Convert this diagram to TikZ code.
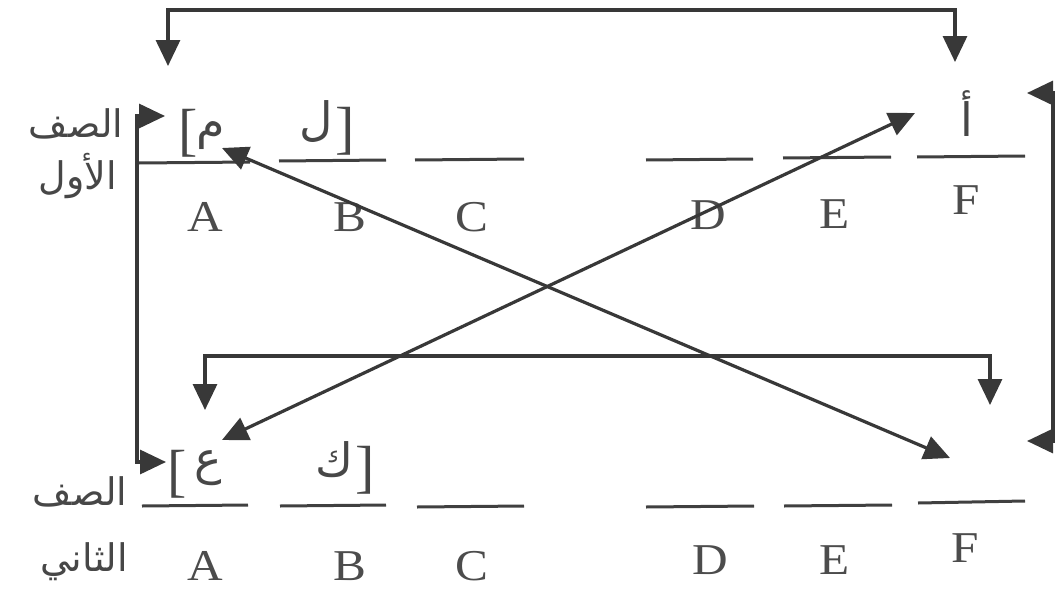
\documentclass[tikz,border=0pt]{standalone}
\usepackage{fontspec}
\setmainfont{Liberation Serif}
\newfontfamily\arabicfont[Script=Arabic]{DejaVu Sans}
\TeXXeTstate=1
\usetikzlibrary{arrows.meta}
\begin{document}
\begin{tikzpicture}[x=1pt,y=-1pt,
  ink/.style={draw=black!78, line width=3.2pt},
  tip/.tip={Triangle[length=26pt,width=24pt]},
  arr/.style={ink, -tip},
  dbl/.style={ink, tip-tip},
  blank/.style={draw=black!75, line width=3pt},
  lat/.style={text=black!70, font=\fontsize{44}{44}\selectfont, inner sep=0pt},
  ar/.style={text=black!72, font=\arabicfont\fontsize{38}{44}\selectfont, inner sep=0pt},
  arl/.style={text=black!72, font=\arabicfont\fontsize{46}{52}\selectfont, inner sep=0pt},
  brk/.style={text=black!72, font=\fontsize{58}{58}\selectfont, inner sep=0pt}]
\useasboundingbox (0,0) rectangle (1058,597);
\fill[white] (0,0) rectangle (1058,597);

% ---- row labels (Arabic) ----
\node[ar] (r1a) at (76,124) {\beginR الصف\endR};
\node[ar] (r1b) at (78,176) {\beginR الأول\endR};
\node[ar] (r2a) at (80,492) {\beginR الصف\endR};
\node[ar] (r2b) at (84,562) {\beginR الثاني\endR};

% ---- blanks row 1 ----
\draw[blank] (139,163) -- (250,162);
\draw[blank] (279,161) -- (386,160);
\draw[blank] (415,160) -- (524,159);
\draw[blank] (646,160) -- (753,159);
\draw[blank] (783,158) -- (891,157);
\draw[blank] (917,157) -- (1025,156);

% ---- blanks row 2 ----
\draw[blank] (142,506) -- (248,505);
\draw[blank] (280,506) -- (386,505);
\draw[blank] (417,507) -- (524,506);
\draw[blank] (646,507) -- (754,506);
\draw[blank] (784,506) -- (892,505);
\draw[blank] (918,503) -- (1025,501);

% ---- column letters ----
\node[lat] (a1) at (205,217) {\scalebox{1.12}[1]{A}};
\node[lat] (b1) at (350,217) {\scalebox{1.12}[1]{B}};
\node[lat] (c1) at (472,217) {\scalebox{1.12}[1]{C}};
\node[lat] (d1) at (708,215) {\scalebox{1.12}[1]{D}};
\node[lat] (e1) at (835,214) {\scalebox{1.12}[1]{E}};
\node[lat] (f1) at (966,200) {\scalebox{1.12}[1]{F}};
\node[lat] (a2) at (205,566) {\scalebox{1.12}[1]{A}};
\node[lat] (b2) at (350,566) {\scalebox{1.12}[1]{B}};
\node[lat] (c2) at (472,566) {\scalebox{1.12}[1]{C}};
\node[lat] (d2) at (710,560) {\scalebox{1.12}[1]{D}};
\node[lat] (e2) at (835,560) {\scalebox{1.12}[1]{E}};
\node[lat] (f2) at (965,548) {\scalebox{1.12}[1]{F}};

% ---- filled-in letters and brackets ----
\node[brk] (k1) at (188,133) {[};
\node[arl] (m1) at (211,136) {\beginR م\endR};
\node[arl] (l1) at (316,122) {\beginR ل\endR};
\node[brk] (k2) at (345,131) {]};
\node[arl] (h1) at (967,114) {\beginR أ\endR};
\node[brk] (k3) at (177,474) {[};
\node[arl] (n1) at (208,468) {\beginR ع\endR};
\node[arl] (q1) at (334,460) {\beginR ك\endR};
\node[brk] (k4) at (365,470) {]};

% ---- arrow end points ----
\coordinate (tL) at (168,66);
\coordinate (tR) at (955,62);
\coordinate (top) at (0,10);
\coordinate (mL) at (205,410);
\coordinate (mR) at (990,405);
\coordinate (mid) at (0,356);
\coordinate (lT) at (165,116);
\coordinate (lB) at (166,462);
\coordinate (lx) at (137,0);
\coordinate (rT) at (1027,93);
\coordinate (rB) at (1027,441);
\coordinate (rx) at (1053,0);
\coordinate (x1a) at (222,148);
\coordinate (x1b) at (950,458);
\coordinate (x2a) at (915,113);
\coordinate (x2b) at (222,440);

% ---- connectors ----
\draw[dbl] (tL) -- (tL |- top) -- (tR |- top) -- (tR);
\draw[dbl] (mL) -- (mL |- mid) -- (mR |- mid) -- (mR);
\draw[dbl] (lT) -- (lx |- lT) -- (lx |- lB) -- (lB);
\draw[dbl] (rT) -- (rx |- rT) -- (rx |- rB) -- (rB);
\draw[dbl] (x1a) -- (x1b);
\draw[dbl] (x2a) -- (x2b);
\end{tikzpicture}
\end{document}
